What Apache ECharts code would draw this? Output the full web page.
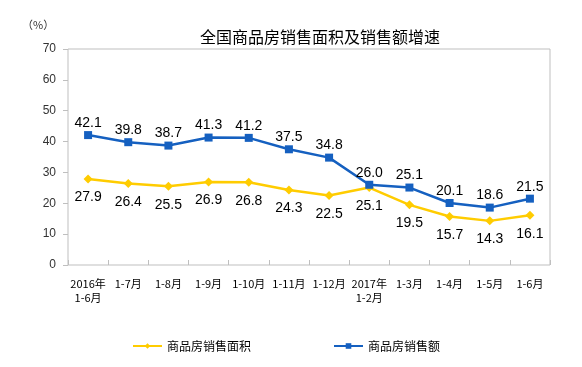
<!DOCTYPE html>
<html><head><meta charset="utf-8">
<script src="https://cdn.jsdelivr.net/npm/echarts@6/dist/echarts.min.js"></script>
<style>html,body{margin:0;padding:0;background:#fff}#c{width:582px;height:367px}</style>
</head><body><div id="c"></div>
<script>
var categories = ['2016年\n1-6月','1-7月','1-8月','1-9月','1-10月','1-11月','1-12月','2017年\n1-2月','1-3月','1-4月','1-5月','1-6月'];
var areaGrowth = [27.9,26.4,25.5,26.9,26.8,24.3,22.5,25.1,19.5,15.7,14.3,16.1];
var salesGrowth = [42.1,39.8,38.7,41.3,41.2,37.5,34.8,26.0,25.1,20.1,18.6,21.5];
var yTicks = [0,10,20,30,40,50,60,70];

var chart = echarts.init(document.getElementById('c'));
var font = '"Noto Sans CJK SC", "Liberation Sans", sans-serif';
chart.setOption({
  animation:false,
  textStyle:{fontFamily:font},
  title:{text:'全国商品房销售面积及销售额增速',left:315,textAlign:'center',top:24,
    textStyle:{fontSize:16,fontWeight:'normal',color:'#000',fontFamily:font}},
  graphic:[{type:'text',left:22,top:19,style:{text:'（%）',fill:'#333',font:'11px "Noto Sans CJK SC", sans-serif'}}],
  grid:{left:68,right:32,top:49,bottom:102,show:true,borderColor:'#bfbfbf',borderWidth:1},
  legend:{bottom:10,left:127,itemGap:82,itemWidth:29,itemHeight:7,
    textStyle:{fontSize:12,color:'#000',fontFamily:font},
    data:['商品房销售面积','商品房销售额']},
  xAxis:{type:'category',data:categories,boundaryGap:true,
    axisLine:{show:false},
    axisTick:{show:true,inside:true,length:5,lineStyle:{color:'#bfbfbf'}},
    axisLabel:{fontSize:11,color:'#000',margin:12,lineHeight:14,interval:0,fontFamily:font}},
  yAxis:{type:'value',min:yTicks[0],max:yTicks[yTicks.length-1],interval:10,
    splitLine:{show:false},
    axisLine:{show:false},
    axisTick:{show:true,length:5,lineStyle:{color:'#bfbfbf'}},
    axisLabel:{fontSize:12,color:'#333',margin:12,fontFamily:'"Liberation Sans", sans-serif'}},
  series:[
    {name:'商品房销售面积',type:'line',data:areaGrowth,symbol:'diamond',symbolSize:9,
      itemStyle:{color:'#FFCC00'},lineStyle:{color:'#FFCC00',width:2.5},
      label:{show:true,position:'bottom',distance:7,fontSize:14,color:'#000',fontFamily:'"Liberation Sans", sans-serif',formatter:function(p){return p.value.toFixed(1);}}},
    {name:'商品房销售额',type:'line',data:salesGrowth,symbol:'rect',symbolSize:8,
      itemStyle:{color:'#1560C0'},lineStyle:{color:'#1560C0',width:2.5},
      label:{show:true,position:'top',distance:1,fontSize:14,color:'#000',fontFamily:'"Liberation Sans", sans-serif',formatter:function(p){return p.value.toFixed(1);}}}
  ]
});
</script></body></html>
